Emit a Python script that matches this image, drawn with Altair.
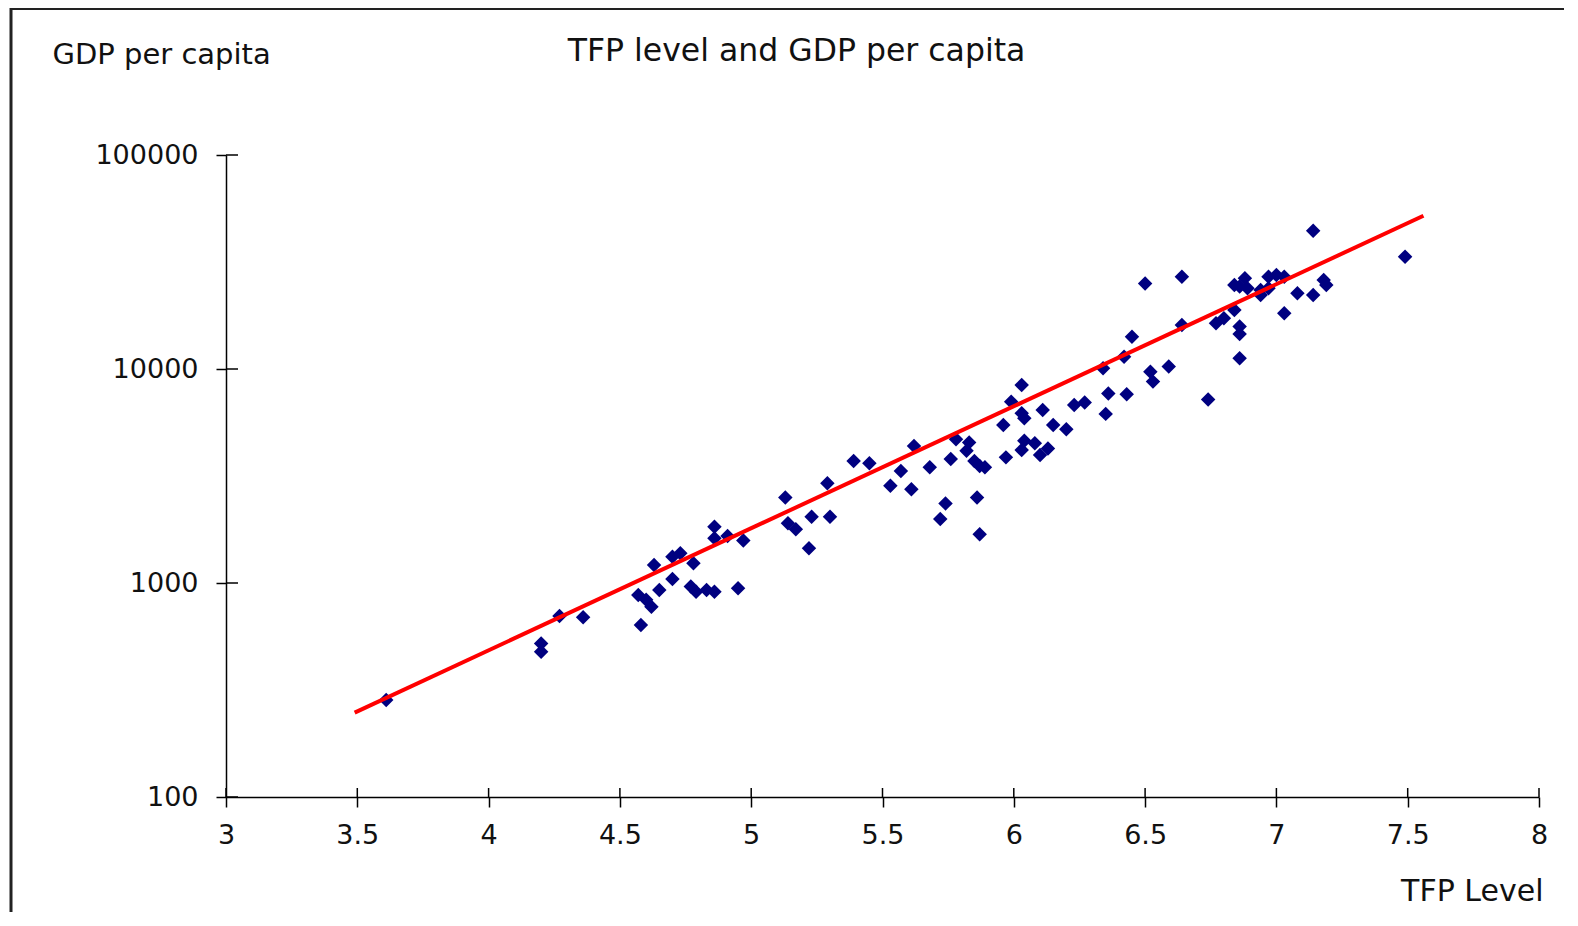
import altair as alt
import pandas as pd

# TFP level (x) and GDP per capita (y)
tfp = [3.61, 4.20, 4.20, 4.27, 4.36, 4.58, 4.57, 4.60, 4.62, 4.65, 4.63, 4.70,
       4.73, 4.78, 4.70, 4.77, 4.79, 4.83, 4.86, 4.95, 4.86, 4.86, 4.91, 4.97,
       5.13, 5.14, 5.17, 5.22, 5.23, 5.30, 5.29, 5.39, 5.45, 5.53, 5.57, 5.61,
       5.62, 5.68, 5.72, 5.74, 5.76, 5.78, 5.83, 5.82, 5.85, 5.87, 5.89, 5.86,
       5.87, 5.96, 5.97, 5.99, 6.03, 6.03, 6.04, 6.04, 6.03, 6.08, 6.10, 6.13,
       6.11, 6.15, 6.20, 6.23, 6.27, 6.35, 6.36, 6.43, 6.34, 6.42, 6.45, 6.52,
       6.53, 6.59, 6.74, 6.50, 6.64, 6.64, 6.77, 6.80, 6.84, 6.86, 6.86, 6.86,
       6.84, 6.86, 6.88, 6.89, 6.94, 6.94, 6.97, 6.97, 7.00, 7.03, 7.08, 7.14,
       7.03, 7.18, 7.19, 7.14, 7.49]
gdp = [284, 522, 477, 701, 692, 637, 879, 834, 774, 927, 1213, 1328,
       1377, 1236, 1045, 962, 910, 927, 910, 944, 1832, 1618, 1660, 1578,
       2512, 1901, 1782, 1452, 2042, 2042, 2924, 3715, 3623, 2851, 3335, 2742,
       4366, 3475, 1991, 2355, 3793, 4690, 4531, 4150, 3715, 3524, 3475, 2512,
       1690, 5470, 3864, 7030, 8410, 6210, 5890, 4615, 4180, 4500, 3963, 4256,
       6427, 5470, 5225, 6790, 6970, 6170, 7690, 7620, 10070, 11400, 14160, 9700,
       8730, 10260, 7210, 25120, 26980, 16070, 16370, 17260, 18880, 15780, 14590, 11220,
       24720, 24270, 26550, 23820, 23390, 22170, 23820, 26980, 27480, 26980, 22590, 22170,
       18200, 26060, 24720, 44260, 33500]

fit_x = [3.49, 7.56]
fit_y = [248, 52000]

x_ticks = [3, 3.5, 4, 4.5, 5, 5.5, 6, 6.5, 7, 7.5, 8]
y_ticks = [100, 1000, 10000, 100000]

W, H = 1313, 642
FONT = "DejaVu Sans"
TXT = "#111111"

pts = pd.DataFrame({"tfp": tfp, "gdp": gdp})
fit = pd.DataFrame({"tfp": fit_x, "gdp": fit_y})
xt = pd.DataFrame({"tfp": x_ticks})
yt = pd.DataFrame({"gdp": y_ticks})

xscale = alt.Scale(domain=[3, 8], nice=False, zero=False)
yscale = alt.Scale(type="log", domain=[100, 100000], nice=False)

xaxis = alt.Axis(values=x_ticks, title="TFP Level", format="~g", grid=False,
                 tickSize=10, labelPadding=15, domainColor="black", tickColor="black",
                 domainWidth=1.5, tickWidth=1.5, labelFont=FONT, labelFontSize=27,
                 labelColor=TXT, labelFlush=False, labelOverlap=False,
                 titleFont=FONT, titleFontSize=30, titleFontWeight="normal",
                 titleColor=TXT, titleX=1317, titleY=94, titleAlign="right",
                 titleBaseline="middle")
yaxis = alt.Axis(values=y_ticks, title="GDP per capita", format="d", grid=False,
                 tickSize=10, labelPadding=18, domainColor="black", tickColor="black",
                 domainWidth=1.5, tickWidth=1.5, labelFont=FONT, labelFontSize=27,
                 labelColor=TXT, labelFlush=False, labelOverlap=False,
                 titleFont=FONT, titleFontSize=29, titleFontWeight="normal",
                 titleColor=TXT, titleAngle=0, titleX=-174, titleY=-101,
                 titleAlign="left", titleBaseline="middle")

xenc = alt.X("tfp:Q", scale=xscale, axis=xaxis)
yenc = alt.Y("gdp:Q", scale=yscale, axis=yaxis)

frame = alt.Chart(pd.DataFrame({"k": [0]})).mark_rect(
    filled=False, stroke="#222222", strokeWidth=3
).encode(x=alt.value(-215), x2=alt.value(1500), y=alt.value(-146.5), y2=alt.value(900))

points = alt.Chart(pts).mark_point(
    shape="diamond", filled=True, color="#000080", size=210, opacity=1
).encode(x=xenc, y=yenc)

line = alt.Chart(fit).mark_line(color="#ff0000", strokeWidth=4).encode(x=xenc, y=yenc)

xin = alt.Chart(xt).mark_rule(color="black", strokeWidth=1.5).encode(
    x=xenc, y=alt.value(H - 9), y2=alt.value(H))
yin = alt.Chart(yt).mark_rule(color="black", strokeWidth=1.5).encode(
    y=yenc, x=alt.value(0), x2=alt.value(12))

chart = alt.layer(frame, xin, yin, points, line).properties(
    width=W, height=H,
    title=alt.TitleParams("TFP level and GDP per capita", anchor="middle", dx=-86,
                          dy=64, font=FONT, fontSize=31.5, fontWeight="normal", color=TXT),
    autosize=alt.AutoSizeParams(type="none"),
    padding={"left": 218, "top": 147, "right": 25, "bottom": 115},
    background="white",
).configure_view(stroke=None)

chart.save("out.html", embed_options={"renderer": "svg", "actions": False})
